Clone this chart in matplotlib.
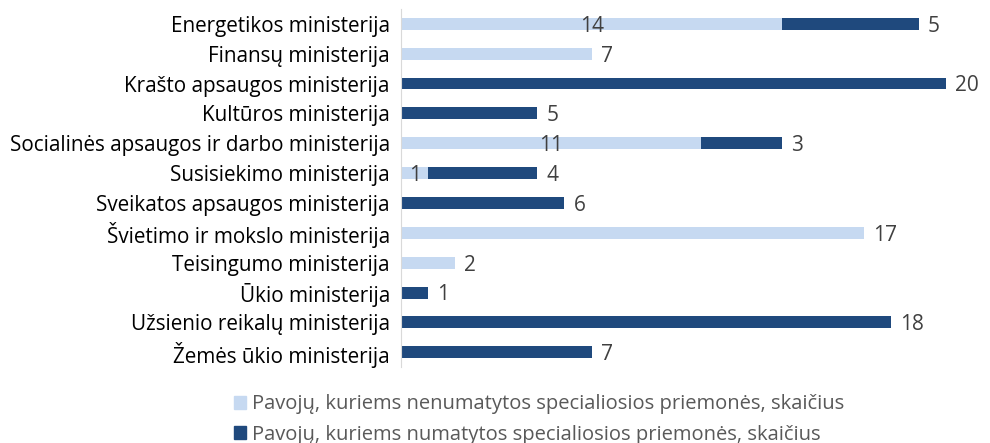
import numpy as np
import matplotlib
matplotlib.use("Agg")
import matplotlib.pyplot as plt
from matplotlib.patches import Patch

plt.rcParams['font.family'] = ['Open Sans', 'DejaVu Sans']

# Ministries, top to bottom
categories = [
    "Energetikos ministerija",
    "Finansų ministerija",
    "Krašto apsaugos ministerija",
    "Kultūros ministerija",
    "Socialinės apsaugos ir darbo ministerija",
    "Susisiekimo ministerija",
    "Sveikatos apsaugos ministerija",
    "Švietimo ir mokslo ministerija",
    "Teisingumo ministerija",
    "Ūkio ministerija",
    "Užsienio reikalų ministerija",
    "Žemės ūkio ministerija",
]
# Risks without special measures
not_covered = [14, 7, 0, 0, 11, 1, 0, 17, 2, 0, 0, 0]
# Risks with special measures
covered = [5, 0, 20, 5, 3, 4, 6, 0, 0, 1, 18, 7]

legend_labels = [
    "Pavojų, kuriems nenumatytos specialiosios priemonės, skaičius",
    "Pavojų, kuriems numatytos specialiosios priemonės, skaičius",
]

light = "#c6d9f1"
dark = "#1f497d"
num_color = "#404040"

fig = plt.figure(figsize=(9.9, 4.43), dpi=100)
ax = fig.add_axes([0.405, 0.171, 0.5505, 0.809])

y = np.arange(len(categories))
ax.barh(y, not_covered, height=0.4, color=light)
ax.barh(y, covered, left=not_covered, height=0.4, color=dark)

ax.set_xlim(0, 20)
ax.set_ylim(len(categories) - 0.5, -0.5)
ax.set_yticks(y)
ax.set_yticklabels(categories, fontsize=14.9, color="black")
ax.tick_params(axis="y", length=0, pad=8)
ax.set_xticks([])
for s in ["top", "right", "bottom"]:
    ax.spines[s].set_visible(False)
ax.spines["left"].set_color("#d9d9d9")

# value labels
for i, (a, b) in enumerate(zip(not_covered, covered)):
    if a > 0:
        if b > 0:
            ax.text(a / 2, i + 0.08, str(a), ha="center", va="center",
                    fontsize=15, color=num_color)
        else:
            ax.text(a + 0.33, i + 0.08, str(a), ha="left", va="center",
                    fontsize=15, color=num_color)
    if b > 0:
        ax.text(a + b + 0.33, i + 0.08, str(b), ha="left", va="center",
                fontsize=15, color=num_color)

handles = [Patch(color=light), Patch(color=dark)]
fig.legend(handles, legend_labels, loc="center", bbox_to_anchor=(0.545, 0.053),
           ncol=1, frameon=False, fontsize=14.5, labelcolor="#595959",
           handlelength=0.6, handleheight=0.6, handletextpad=0.3,
           labelspacing=0.5, borderpad=0)

fig.savefig("out.png", dpi=100)
